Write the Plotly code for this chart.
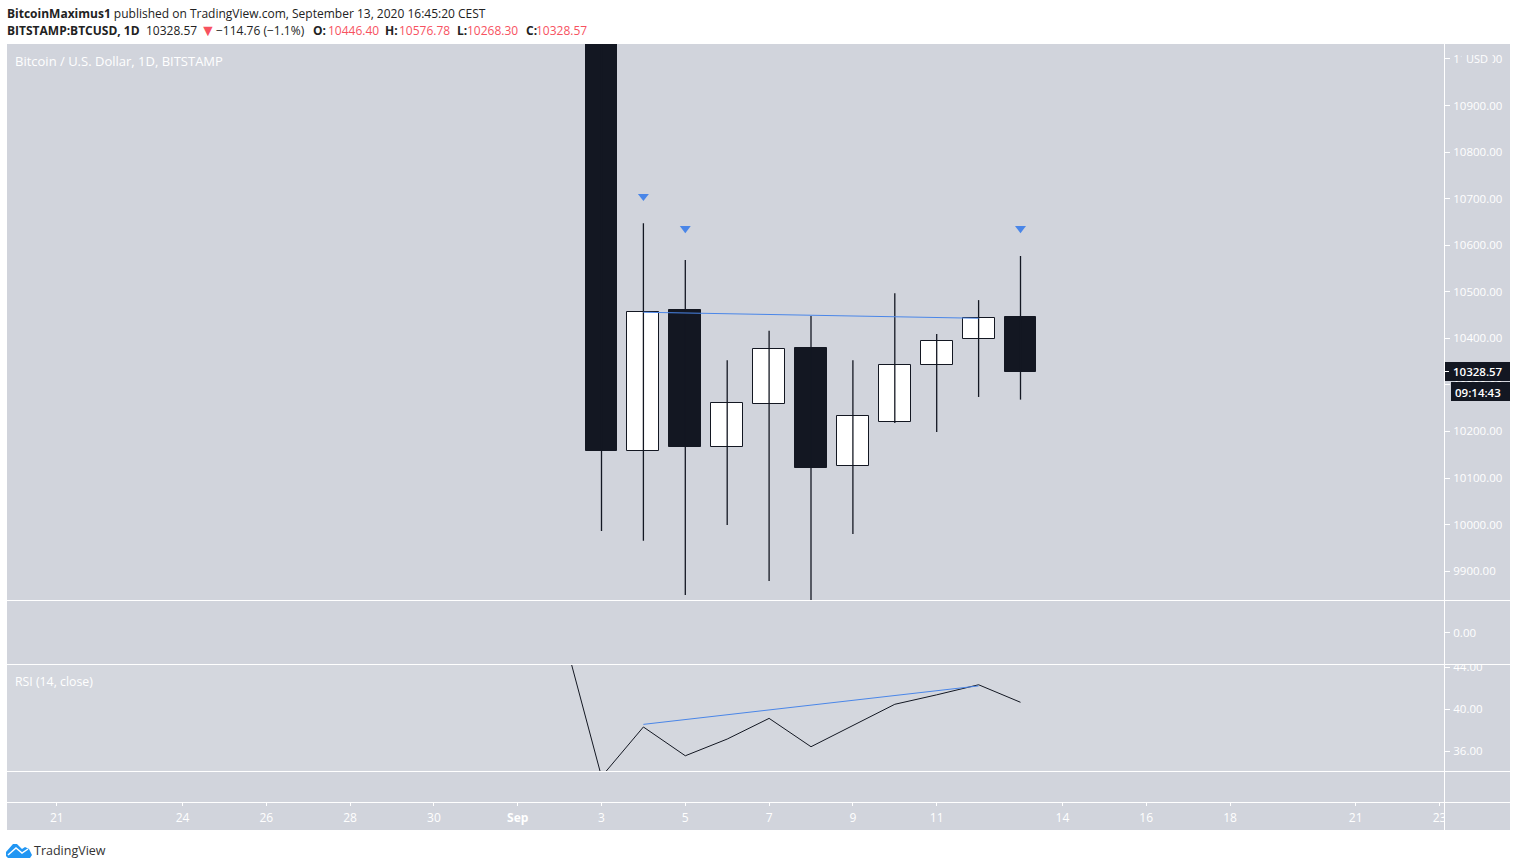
import pandas as pd
import plotly.graph_objects as go

# daily candles
dates = ["2020-09-03", "2020-09-04", "2020-09-05", "2020-09-06", "2020-09-07", "2020-09-08",
         "2020-09-09", "2020-09-10", "2020-09-11", "2020-09-12", "2020-09-13"]
opens = [11396, 10158, 10461, 10166, 10259, 10379, 10126, 10220, 10343, 10398, 10446.40]
highs = [11440, 10647, 10568, 10353, 10416, 10448, 10353, 10497, 10409, 10482, 10576.78]
lows = [9986, 9965, 9849, 9999, 9879, 9836, 9980, 10218, 10199, 10274, 10268.30]
closes = [10158, 10456, 10166, 10261, 10377, 10121, 10233, 10343, 10394, 10443, 10328.57]

# RSI, the first point is above the visible part of the pane
rsi_dates = ["2020-09-02"] + dates
rsi_values = [48.5, 33.56, 38.29, 35.55, 37.14, 39.11, 36.41, 38.4, 40.45, 41.35, 42.31, 40.64]

# drawings
marker_dates = ["2020-09-04", "2020-09-05", "2020-09-13"]
marker_prices = [10705, 10636, 10636]
price_line_dates = ["2020-09-04", "2020-09-12"]
price_line_values = [10456, 10443]
rsi_line_dates = ["2020-09-04", "2020-09-12"]
rsi_line_values = [38.54, 42.2]

# axis labels
time_ticks = ["2020-08-21", "2020-08-24", "2020-08-26", "2020-08-28", "2020-08-30", "2020-09-01",
              "2020-09-03", "2020-09-05", "2020-09-07", "2020-09-09", "2020-09-11", "2020-09-14",
              "2020-09-16", "2020-09-18", "2020-09-21", "2020-09-23"]
time_labels = ["21", "24", "26", "28", "30", "<b>Sep</b>", "3", "5", "7", "9", "11", "14",
               "16", "18", "21", "23"]
price_ticks = [9900, 10000, 10100, 10200, 10300, 10400, 10500, 10600, 10700, 10800, 10900, 11000]
rsi_ticks = [36, 40, 44]

W, H = 1517, 868
DARK = "#131722"
BG = "#d1d4dc"
BG_RSI = "#d4d7de"
BLUE = "#4a86e8"
AXIS_TEXT = "#ffffff"
RED = "#f7525f"
HEAD = "#222222"
FONT = "Open Sans"


def px(x):
    return x / W


def py(y):
    return 1 - y / H


def rect(x0, y0, x1, y1, color, layer="below"):
    return dict(type="rect", xref="paper", yref="paper", x0=px(x0), x1=px(x1), y0=py(y0), y1=py(y1),
                fillcolor=color, line_width=0, layer=layer)


def rule(x0, y0, x1, y1):
    return dict(type="line", xref="paper", yref="paper", x0=px(x0), x1=px(x1), y0=py(y0), y1=py(y1),
                line=dict(color="white", width=1), layer="above")


def path(points):
    return " ".join(("M" if i == 0 else "L") + " %f %f" % (px(x), py(y)) for i, (x, y) in enumerate(points))


def label(x, y, text, size=12, color=AXIS_TEXT, **kw):
    return dict(xref="paper", yref="paper", x=px(x), y=py(y), text=text, showarrow=False,
                xanchor=kw.pop("xanchor", "left"), yanchor="middle",
                font=dict(family=FONT, size=size, color=color, weight=kw.pop("weight", "normal")), **kw)


day = 86400000
fig = go.Figure()

# wicks
wick_x, wick_y = [], []
for d, lo, hi in zip(dates, lows, highs):
    wick_x += [d, d, None]
    wick_y += [lo, hi, None]
fig.add_trace(go.Scatter(x=wick_x, y=wick_y, mode="lines", line=dict(color=DARK, width=1.3), showlegend=False))

# candle bodies
body_base = [min(o, c) for o, c in zip(opens, closes)]
body_height = [abs(o - c) for o, c in zip(opens, closes)]
body_color = ["white" if c > o else DARK for o, c in zip(opens, closes)]
fig.add_trace(go.Bar(x=dates, y=body_height, base=body_base, width=0.76 * day,
                     marker=dict(color=body_color, line=dict(color=DARK, width=1)), showlegend=False))

fig.add_trace(go.Scatter(x=price_line_dates, y=price_line_values, mode="lines",
                         line=dict(color=BLUE, width=1), showlegend=False))
fig.add_trace(go.Scatter(x=marker_dates, y=marker_prices, mode="markers",
                         marker=dict(symbol="triangle-down", size=9.5, color=BLUE), showlegend=False))

# empty pane with the 0.00 scale and the one that carries the time axis
fig.add_trace(go.Scatter(x=dates[:1], y=[None], yaxis="y2", showlegend=False))
fig.add_trace(go.Scatter(x=dates[:1], y=[None], yaxis="y4", showlegend=False))

fig.add_trace(go.Scatter(x=rsi_dates, y=rsi_values, yaxis="y3", mode="lines",
                         line=dict(color=DARK, width=1), showlegend=False))
fig.add_trace(go.Scatter(x=rsi_line_dates, y=rsi_line_values, yaxis="y3", mode="lines",
                         line=dict(color=BLUE, width=1), showlegend=False))

sep3 = pd.Timestamp("2020-09-03")
x_range = [sep3 + pd.Timedelta(days=(7 - 601.5) / 41.9), sep3 + pd.Timedelta(days=(1444 - 601.5) / 41.9)]

scale = dict(side="right", anchor="free", position=px(1444), showgrid=False, zeroline=False,
             automargin=False, ticks="outside", ticklen=5, tickcolor="white", tickwidth=1, tickformat=".2f",
             tickfont=dict(family=FONT, size=11.5, color=AXIS_TEXT), showline=False, ticklabelstandoff=1)

fig.update_layout(
    width=W, height=H, margin=dict(l=0, r=0, t=0, b=0), autosize=False,
    paper_bgcolor="white", plot_bgcolor="rgba(0,0,0,0)", bargap=0,
    font=dict(family=FONT),
    xaxis=dict(domain=[px(7), px(1444)], range=x_range, type="date", anchor="y4", showgrid=False,
               automargin=False, zeroline=False, showline=False, tickmode="array", tickvals=time_ticks,
               ticktext=time_labels, ticks="outside", ticklen=3, tickcolor="white", tickangle=0,
               ticklabelstandoff=2, tickfont=dict(family=FONT, size=12, color=AXIS_TEXT)),
    yaxis=dict(domain=[py(600), py(44)], range=[9838, 11032], tickmode="array", tickvals=price_ticks, **scale),
    yaxis2=dict(domain=[py(664), py(601)], range=[-71, 71], tickmode="array", tickvals=[0], **scale),
    yaxis3=dict(domain=[py(771), py(665)], range=[34.1, 44.19], tickmode="array", tickvals=rsi_ticks, **scale),
    yaxis4=dict(domain=[py(802), py(772)], range=[0, 1], visible=False, side="right", anchor="free",
                position=px(1444), automargin=False),
    shapes=[
        rect(7, 44, 1510, 830, BG),
        rect(7, 665, 1444, 771, BG_RSI),
        rect(1445, 653, 1510, 664, BG, "above"),
        rect(1445, 803, 1510, 830, BG, "above"),
        rect(1444, 362, 1510, 381, DARK, "above"),
        rect(1451, 382, 1510, 401, DARK, "above"),
        rule(7, 600.5, 1510, 600.5),
        rule(7, 664.5, 1510, 664.5),
        rule(7, 771.5, 1510, 771.5),
        rule(7, 802.5, 1510, 802.5),
        rule(1444.5, 44, 1444.5, 830),
        rule(1444, 371.5, 1449, 371.5),
        # TradingView logo
        dict(type="path", xref="paper", yref="paper", layer="above", line_width=0, fillcolor="#2196f3",
             path=path([(6, 852), (13, 844), (17, 844), (22, 849), (25, 847), (29, 849), (32, 855),
                        (30, 858), (8, 858), (6, 856)]) + " Z"),
        dict(type="path", xref="paper", yref="paper", layer="above", line=dict(color="white", width=1.5),
             path=path([(8, 855), (16, 848), (22, 853), (28, 849)])),
    ],
    annotations=[
        label(5, 13, "<b>BitcoinMaximus1</b> published on TradingView.com, September 13, 2020 16:45:20 CEST",
              color=HEAD),
        label(5, 30, "<b>BITSTAMP:BTCUSD, 1D</b>", color=HEAD),
        label(144, 30, "%.2f" % closes[-1], color=HEAD),
        label(198, 30, "▼", size=16, color=RED),
        label(214, 30, "−114.76 (−1.1%)", color=HEAD),
        label(311, 30, "<b>O:</b>", color=HEAD),
        label(326, 30, "%.2f" % opens[-1], color=RED),
        label(383, 30, "<b>H:</b>", color=HEAD),
        label(397, 30, "%.2f" % highs[-1], color=RED),
        label(455, 30, "<b>L:</b>", color=HEAD),
        label(465, 30, "%.2f" % lows[-1], color=RED),
        label(524, 30, "<b>C:</b>", color=HEAD),
        label(534, 30, "%.2f" % closes[-1], color=RED),
        label(13, 60.5, "Bitcoin / U.S. Dollar, 1D, BITSTAMP", size=13),
        label(13, 681.5, "RSI (14, close)", size=12.3),
        label(1477, 59, "USD", size=11, xanchor="center", bgcolor=BG, borderpad=4),
        label(1451, 371.5, "%.2f" % closes[-1], size=11.5, color="white", weight=600),
        label(1453, 392, "09:14:43", size=11.5, color="white", weight=600),
        label(32, 850, "TradingView", size=12.5, color="#333333"),
    ],
)

fig.write_html("out.html", config=dict(displayModeBar=False), post_script="document.body.style.margin='0';")
